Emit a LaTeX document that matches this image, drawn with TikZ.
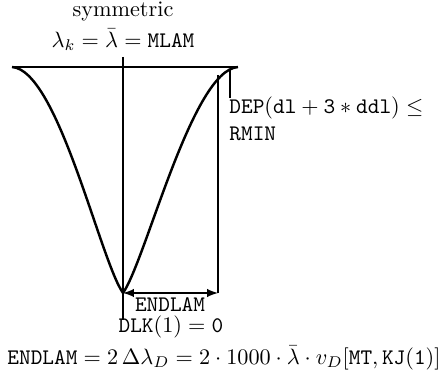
\documentclass[tikz,border=0pt]{standalone}
\usetikzlibrary{arrows}

\tikzstyle{lbl} = [inner sep=0pt]
\tikzstyle{line} = [line width=0.7pt]
\tikzstyle{bell} = [line width=1.1pt]

\begin{document}
\begin{tikzpicture}[x=0.45pt, y=-0.45pt]
\useasboundingbox (0,0) rectangle (445,378);
%punten
\coordinate (tl) at (12,67);
\coordinate (tr) at (238,67);
\coordinate (axtop) at (123,57);
\coordinate (bottom) at (123,293);
\coordinate (axend) at (123,320);
\coordinate (rtop) at (218,75);
\coordinate (rbot) at (218,293);
\coordinate (dtop) at (230,70);
\coordinate (dbot) at (230,98);
%teksten
\node[lbl] (sym) at (123,11) {symmetric};
\node[lbl] (mlam) at (123,40) {$\lambda_k=\bar\lambda=\mathtt{MLAM}$};
\node[lbl, anchor=west] (dep) at (229,108) {$\mathtt{DEP}(\mathtt{dl}+\mathtt{3}*\mathtt{ddl})\le$};
\node[lbl, anchor=west] (rmin) at (229,134) {$\mathtt{RMIN}$};
\node[lbl] (endlam) at (170,305) {$\mathtt{ENDLAM}$};
\node[lbl] (dlk) at (171,327) {$\mathtt{DLK}(1)=\mathtt{0}$};
\node[lbl] (formula) at (224,358) {$\mathtt{ENDLAM}=2\,\Delta\lambda_D=2\cdot1000\cdot\bar\lambda\cdot v_D[\mathtt{MT},\mathtt{KJ(1)}]$};
%lijnen
\draw[line] (tl) -- (tr);
\draw[line] (axtop) -- (axend);
\draw[line] (dtop) -- (dbot);
\draw[line width=1.3pt] (rtop) -- (rbot);
\draw[line, latex-latex] (bottom) -- (rbot);
%kromme
\draw[bell] (tl) .. controls (58,70) and (100,260) .. (bottom);
\draw[bell] (bottom) .. controls (146,260) and (192,70) .. (tr);
\end{tikzpicture}
\end{document}
